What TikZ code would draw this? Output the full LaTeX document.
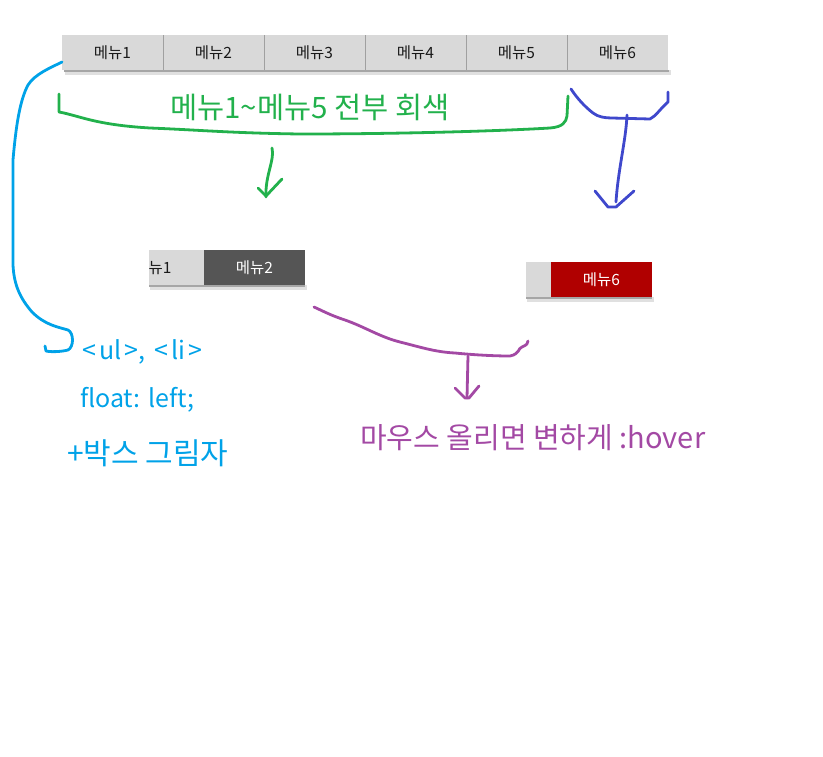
\documentclass[tikz,border=0pt]{standalone}
\usepackage{fontspec}
\setmainfont{Noto Sans CJK KR}
\definecolor{cellgray}{HTML}{D9D9D9}
\definecolor{sepgray}{HTML}{A0A0A0}
\definecolor{darkcell}{HTML}{555555}
\definecolor{redcell}{HTML}{B00000}
\definecolor{pgreen}{HTML}{22B14C}
\definecolor{pcyan}{HTML}{00A2E8}
\definecolor{ppurple}{HTML}{A349A4}
\definecolor{pblue}{HTML}{3F48CC}
\begin{document}
\begin{tikzpicture}[x=1pt,y=-1pt,
  cell/.style={fill=cellgray,minimum height=35pt,inner sep=0pt,font=\fontsize{15.5}{18}\selectfont,text=black!90},
  pen/.style={line width=2.8pt,line cap=round,line join=round},
  note/.style={inner sep=0pt,anchor=west}]
\useasboundingbox (0,0) rectangle (823,756);
% top bar shadow
\fill[black!12] (65,70) rectangle (671,75);
\fill[black!35] (64,70) rectangle (669,72);
\foreach \i/\x in {1/112.5,2/213.5,3/314.5,4/415.5,5/516.5,6/617.5}
  \node[cell,minimum width=101pt] (m\i) at (\x,52.5) {메뉴\i};
\foreach \x in {163,264,365,466,567}
  \draw[sepgray,line width=1pt] (\x,35) -- (\x,70);
% second bar
\fill[black!12] (150,285) rectangle (307,290);
\fill[black!35] (149,285) rectangle (305,287);
\node[cell,minimum width=55pt] (h1) at (176.5,267.5) {};
\begin{scope}
  \clip (149,250) rectangle (204,285);
  \node[cell,fill=none] (h1t) at (153,267.5) {메뉴1};
\end{scope}
\node[cell,fill=darkcell,text=white,minimum width=101pt] (h2) at (254.5,267.5) {메뉴2};
% third bar
\fill[black!12] (527,297) rectangle (654,302);
\fill[black!35] (526,297) rectangle (652,299);
\node[cell,minimum width=25pt] (h5) at (538.5,279.5) {};
\node[cell,fill=redcell,text=white,minimum width=101pt] (h6) at (601.5,279.5) {메뉴6};
% texts
\node[text=pgreen,font=\fontsize{29.5}{34}\selectfont,inner sep=0pt] (gt) at (310,107) {메뉴1\textasciitilde 메뉴5 전부 회색};
\node[note,text=pcyan,font=\fontsize{25}{30}\selectfont] (t1) at (82,352) {<\kern3pt ul\kern3pt >, \kern4pt<\kern3pt li\kern3pt>};
\node[note,text=pcyan,font=\fontsize{25}{30}\selectfont] (t2) at (80,400) {float: left;};
\node[note,text=pcyan,font=\fontsize{30}{35}\selectfont] (t3) at (67,453) {+박스 그림자};
\node[note,text=ppurple,font=\fontsize{29}{34}\selectfont] (pt) at (360,438) {마우스 올리면 변하게 :hover};
% green bracket
\draw[pen,pgreen] (59,94) -- (59,112) -- (64,113)
  .. controls (85,118) and (100,125) .. (150,128)
  .. controls (200,130) and (230,133) .. (300,134)
  .. controls (400,134) and (500,131) .. (550,128)
  .. controls (563,127) and (566,122) .. (567,116) -- (568,96);
\coordinate (ga) at (272,148);
\coordinate (gb) at (266,197);
\draw[pen,pgreen] (ga) .. controls (275,160) and (265,175) .. (gb);
\draw[pen,pgreen] (258,188) -- (266,196) -- (282,179);
% dark blue bracket
\draw[pen,pblue] (571,89) .. controls (577,98) and (584,106) .. (593,113)
  .. controls (598,117) and (605,118) .. (612,118) -- (650,119)
  .. controls (656,116) and (660,109) .. (668,102) -- (668,92);
\coordinate (ba) at (627,115);
\coordinate (bb) at (616,202);
\draw[pen,pblue] (ba) .. controls (626,140) and (618,170) .. (bb);
\draw[pen,pblue] (595,191) -- (608,207) -- (616,207) -- (634,191);
% cyan curve
\draw[pen,pcyan] (62,62) .. controls (50,68) and (35,74) .. (28,85)
  .. controls (20,100) and (16,125) .. (13,160)
  -- (13,265) .. controls (14,285) and (20,298) .. (32,312)
  .. controls (45,325) and (58,327) .. (68,330)
  .. controls (74,333) and (74,347) .. (68,350)
  .. controls (60,352) and (50,352) .. (46,351) -- (45,346);
% purple bracket
\draw[pen,ppurple] (314,307) .. controls (325,312) and (330,315) .. (345,320)
  .. controls (365,327) and (380,337) .. (400,342)
  .. controls (420,347) and (435,352) .. (455,353)
  .. controls (475,355) and (495,356) .. (510,356)
  .. controls (520,354) and (518,348) .. (522,347)
  .. controls (527,345) and (528,343) .. (528,341);
\coordinate (pa) at (468,356);
\coordinate (pb) at (467,398);
\draw[pen,ppurple] (pa) -- (pb);
\draw[pen,ppurple] (455,388) -- (465,398) -- (469,398) -- (479,386);
\end{tikzpicture}
\end{document}
